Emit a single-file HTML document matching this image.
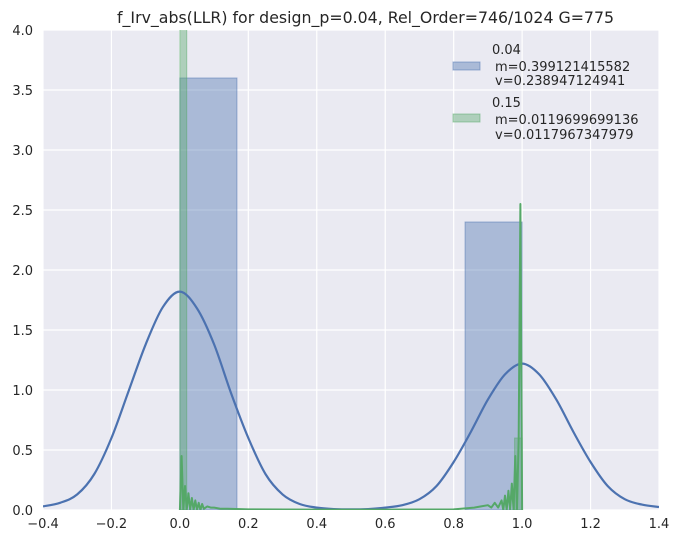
<!DOCTYPE html>
<html><head><meta charset="utf-8"><style>
body{margin:0;background:#fff;}
svg{display:block;font-family:"DejaVu Sans","Liberation Sans",sans-serif;}
</style></head><body>
<svg id="chart" width="682" height="544"></svg>
<script>
const xTicks=[-0.4,-0.2,0.0,0.2,0.4,0.6,0.8,1.0,1.2,1.4];
const yTicks=[0.0,0.5,1.0,1.5,2.0,2.5,3.0,3.5,4.0];
const blueBinStarts=[0.0,0.8333];
const blueBinEnds=[0.1667,1.0];
const blueHeights=[3.6,2.4];
const greenBinStarts=[0.0,0.978];
const greenBinEnds=[0.02,1.0];
const greenHeights=[4.2,0.6];
const blueKdeX=[-0.4,-0.35,-0.3,-0.25,-0.2,-0.15,-0.1,-0.05,0,0.05,0.1,0.15,0.2,0.25,0.3,0.35,0.4,0.45,0.5,0.55,0.6,0.65,0.7,0.75,0.8,0.85,0.9,0.95,1.0,1.05,1.1,1.15,1.2,1.25,1.3,1.35,1.4];
const blueKdeY=[0.03,0.06,0.13,0.3,0.6,0.99,1.38,1.69,1.82,1.68,1.38,0.97,0.6,0.3,0.13,0.05,0.02,0.008,0.005,0.008,0.02,0.04,0.09,0.2,0.4,0.65,0.92,1.13,1.22,1.13,0.92,0.65,0.4,0.2,0.09,0.045,0.025];
const greenKdeX=[0,0.005,0.01,0.015,0.02,0.025,0.03,0.035,0.04,0.045,0.05,0.055,0.06,0.065,0.07,0.08,0.09,0.1,0.12,0.14,0.2,0.4,0.6,0.8,0.86,0.88,0.9,0.91,0.92,0.93,0.94,0.945,0.95,0.955,0.96,0.965,0.97,0.975,0.98,0.985,0.99,0.995,1.0];
const greenKdeY=[0,0.45,0,0.2,0,0.14,0,0.1,0,0.08,0,0.06,0,0.05,0.01,0.03,0.02,0.02,0.01,0.01,0.005,0.003,0.003,0.005,0.02,0.03,0.04,0.02,0.06,0.02,0.08,0,0.12,0,0.16,0,0.22,0,0.45,0,0.6,2.55,0];

const svg=document.getElementById('chart');
const NS='http://www.w3.org/2000/svg';
const L=43,R=659,T=30,B=510;
const xs=v=>L+(v+0.4)/1.8*(R-L);
const ys=v=>B-v/4*(B-T);
function mk(tag,attrs,parent){const e=document.createElementNS(NS,tag);for(const k in attrs)e.setAttribute(k,attrs[k]);(parent||svg).appendChild(e);return e;}

const bg=mk('rect',{x:L,y:T,width:R-L,height:B-T,fill:'#EAEAF2'});


const defs=mk('defs',{});
const cp=mk('clipPath',{id:'clip'},defs);mk('rect',{x:L,y:T,width:R-L,height:B-T},cp);

xTicks.forEach(t=>{
 const g=mk('line',{x1:xs(t),x2:xs(t),y1:T,y2:B,stroke:'#fff','stroke-width':1.2});
 
 
 const tx=mk('text',{x:xs(t),y:B+18,'text-anchor':'middle','font-size':13,fill:'#262626'});
 tx.textContent=t.toFixed(1).replace('-','\u2212');
 
 
});
yTicks.forEach(t=>{
 const g=mk('line',{x1:L,x2:R,y1:ys(t),y2:ys(t),stroke:'#fff','stroke-width':1.2});
 
 
 const tx=mk('text',{x:L-10,y:ys(t)+5,'text-anchor':'end','font-size':13,fill:'#262626'});
 tx.textContent=t.toFixed(1);
 
 
});
const plot=mk('g',{'clip-path':'url(#clip)'});
blueHeights.forEach((h,i)=>{
 const r=mk('rect',{x:xs(blueBinStarts[i]),y:ys(h),width:xs(blueBinEnds[i])-xs(blueBinStarts[i]),height:ys(0)-ys(h),fill:'#4C72B0','fill-opacity':0.4,stroke:'#4C72B0','stroke-opacity':0.5,'stroke-width':1},plot);
 
 
});
greenHeights.forEach((h,i)=>{
 const r=mk('rect',{x:xs(greenBinStarts[i]),y:ys(h),width:xs(greenBinEnds[i])-xs(greenBinStarts[i]),height:ys(0)-ys(h),fill:'#55A868','fill-opacity':0.4,stroke:'#55A868','stroke-opacity':0.5,'stroke-width':1},plot);
 
 
});
function smooth(X,Y){
 const p=X.map((x,i)=>[xs(x),ys(Y[i])]);
 let d='M'+p[0][0]+','+p[0][1];
 for(let i=0;i<p.length-1;i++){
  const p0=p[Math.max(0,i-1)],p1=p[i],p2=p[i+1],p3=p[Math.min(p.length-1,i+2)];
  const c1=[p1[0]+(p2[0]-p0[0])/6,p1[1]+(p2[1]-p0[1])/6];
  const c2=[p2[0]-(p3[0]-p1[0])/6,p2[1]-(p3[1]-p1[1])/6];
  d+=`C${c1[0]},${c1[1]} ${c2[0]},${c2[1]} ${p2[0]},${p2[1]}`;
 }
 return d;
}
const bl=mk('path',{d:smooth(blueKdeX,blueKdeY),fill:'none',stroke:'#4C72B0','stroke-width':2.2},plot);


const gl=mk('path',{d:'M'+greenKdeX.map((x,i)=>xs(x)+','+ys(greenKdeY[i])).join(' L'),fill:'none',stroke:'#55A868','stroke-width':2,'stroke-linejoin':'round'},plot);



const title=mk('text',{x:117,y:23,'font-size':16,fill:'#262626',textLength:497,lengthAdjust:'spacingAndGlyphs'});
title.textContent='f_Irv_abs(LLR) for design_p=0.04, Rel_Order=746/1024 G=775';



const legend=mk('g',{});


const entries=[['#4C72B0',62,[54,71,85],['0.04',' m=0.399121415582',' v=0.238947124941']],['#55A868',114,[107,124,139],['0.15',' m=0.0119699699136',' v=0.0117967347979']]];
entries.forEach(([c,sy,bys,lines])=>{
 const sw=mk('rect',{x:453,y:sy,width:27,height:8,fill:c,'fill-opacity':0.4,stroke:c,'stroke-opacity':0.5},legend);
 
 
 lines.forEach((s,j)=>{
  const t=mk('text',{x:j==0?492:495,y:bys[j],'font-size':13,fill:'#262626'},legend);
  t.textContent=s.trim();
  
  
 });
});
</script>
</body></html>
